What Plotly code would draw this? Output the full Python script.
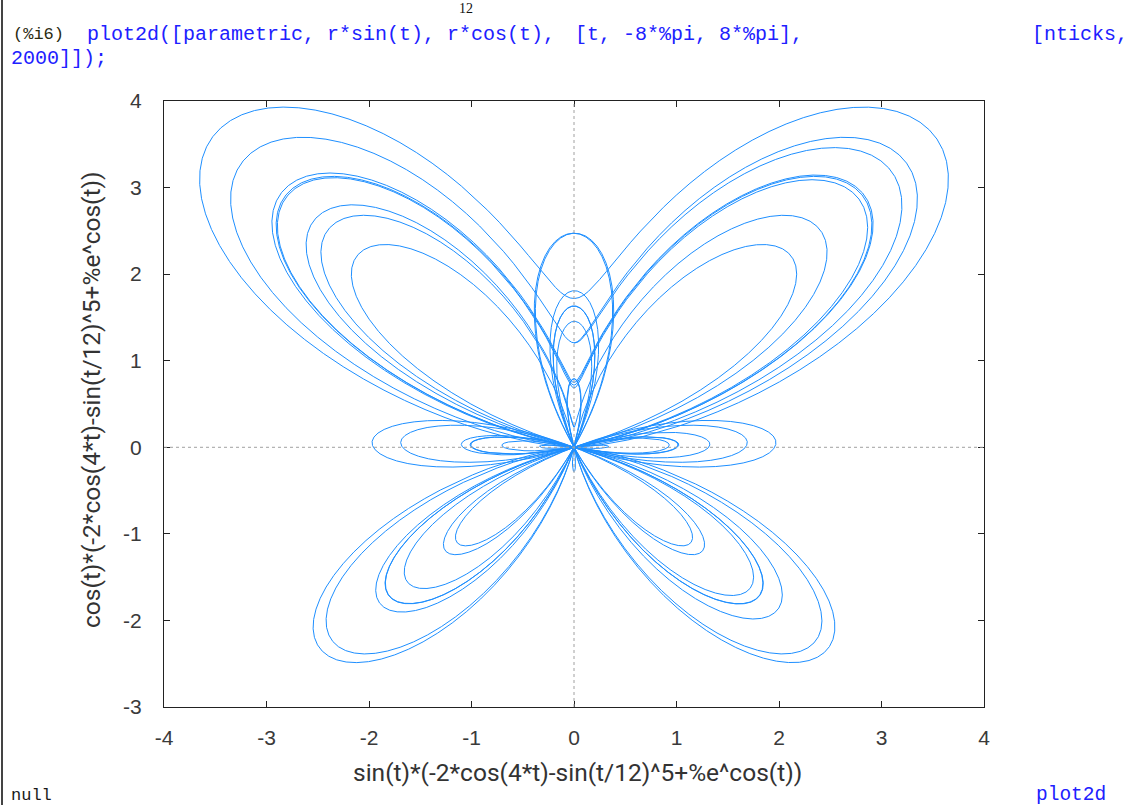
import numpy as np
import plotly.graph_objects as go

# ---- data: the parametric curve named in the chart's own axis titles ----
T_START = -8 * np.pi
T_END = 8 * np.pi
N_TICKS = 2000
t = np.linspace(T_START, T_END, N_TICKS)
r = -2 * np.cos(4 * t) - np.sin(t / 12) ** 5 + np.exp(np.cos(t))
x_vals = r * np.sin(t)
y_vals = r * np.cos(t)

x_ticks = [-4, -3, -2, -1, 0, 1, 2, 3, 4]
x_tick_text = ["-4", "-3", "-2", "-1", "0", "1", "2", "3", "4"]
y_ticks = [-3, -2, -1, 0, 1, 2, 3, 4]
y_tick_text = ["-3", "-2", "-1", "0", "1", "2", "3", "4"]
x_title = "sin(t)*(-2*cos(4*t)-sin(t/12)^5+%e^cos(t))"
y_title = "cos(t)*(-2*cos(4*t)-sin(t/12)^5+%e^cos(t))"

W, H = 1137, 805
L, R, TOP, BOT = 164, 984, 101, 707


def px(xp):
    return (xp - L) / (R - L)


def py(yp):
    return (BOT - yp) / (BOT - TOP)


fig = go.Figure()
fig.add_trace(go.Scatter(x=x_vals, y=y_vals, mode="lines",
                         line=dict(color="#1e8fff", width=1),
                         hoverinfo="skip", showlegend=False))

axis_common = dict(showgrid=False, zeroline=False, showline=True, mirror="allticks",
                   linecolor="#222222", linewidth=1, ticks="inside", ticklen=6,
                   tickcolor="#222222", tickwidth=1,
                   tickfont=dict(family="Liberation Sans", size=21, color="#3a3a3a"))

fig.update_xaxes(range=[-4, 4], tickvals=x_ticks, ticktext=x_tick_text,
                 ticklabelstandoff=12, **axis_common)
fig.update_yaxes(range=[-3, 4], tickvals=y_ticks, ticktext=y_tick_text,
                 ticklabelstandoff=17, **axis_common)

shapes = [
    dict(type="line", xref="x", yref="y", x0=0, x1=0, y0=-3, y1=4,
         line=dict(color="#a0a0a0", width=1, dash="dot")),
    dict(type="line", xref="x", yref="y", x0=-4, x1=4, y0=0, y1=0,
         line=dict(color="#a0a0a0", width=1, dash="dot")),
    dict(type="line", xref="paper", yref="paper", x0=px(2), x1=px(2), y0=py(0), y1=py(H),
         line=dict(color="#444444", width=2)),
]

mono = "Liberation Mono"
ann = []


def text(s, xp, yp, color, size=20, family=mono, xanchor="left", yanchor="middle", angle=0):
    ann.append(dict(text=s, x=px(xp), y=py(yp), xref="paper", yref="paper",
                    xanchor=xanchor, yanchor=yanchor, showarrow=False, textangle=angle,
                    font=dict(family=family, size=size, color=color)))


text("12", 457, 18, "#111111", size=14, family="Liberation Serif", yanchor="bottom")
text("(%i6)", 11, 35, "#2a2a10", size=17)
text("plot2d([parametric, r*sin(t), r*cos(t),", 85, 35, "#2020ff", size=20)
text("[t, -8*%pi, 8*%pi],", 573, 35, "#2020ff", size=20)
text("[nticks,", 1030, 35, "#2020ff", size=20)
text("2000]]);", 9, 59, "#2020ff", size=20)
text("null", 9, 795, "#1a1a1a", size=17)
text("plot2d", 1034, 795, "#2020ff", size=19.5)
text(x_title, 577, 772, "#333333", size=24.5, family="Roboto", xanchor="center")
text(y_title, 91, 400, "#333333", size=24.5, family="Roboto",
     xanchor="center", angle=-90)

fig.update_layout(width=W, height=H, autosize=False,
                  margin=dict(l=L, r=W - R, t=TOP, b=H - BOT, pad=0),
                  paper_bgcolor="white", plot_bgcolor="white",
                  shapes=shapes, annotations=ann)

fig.write_html("out.html")
